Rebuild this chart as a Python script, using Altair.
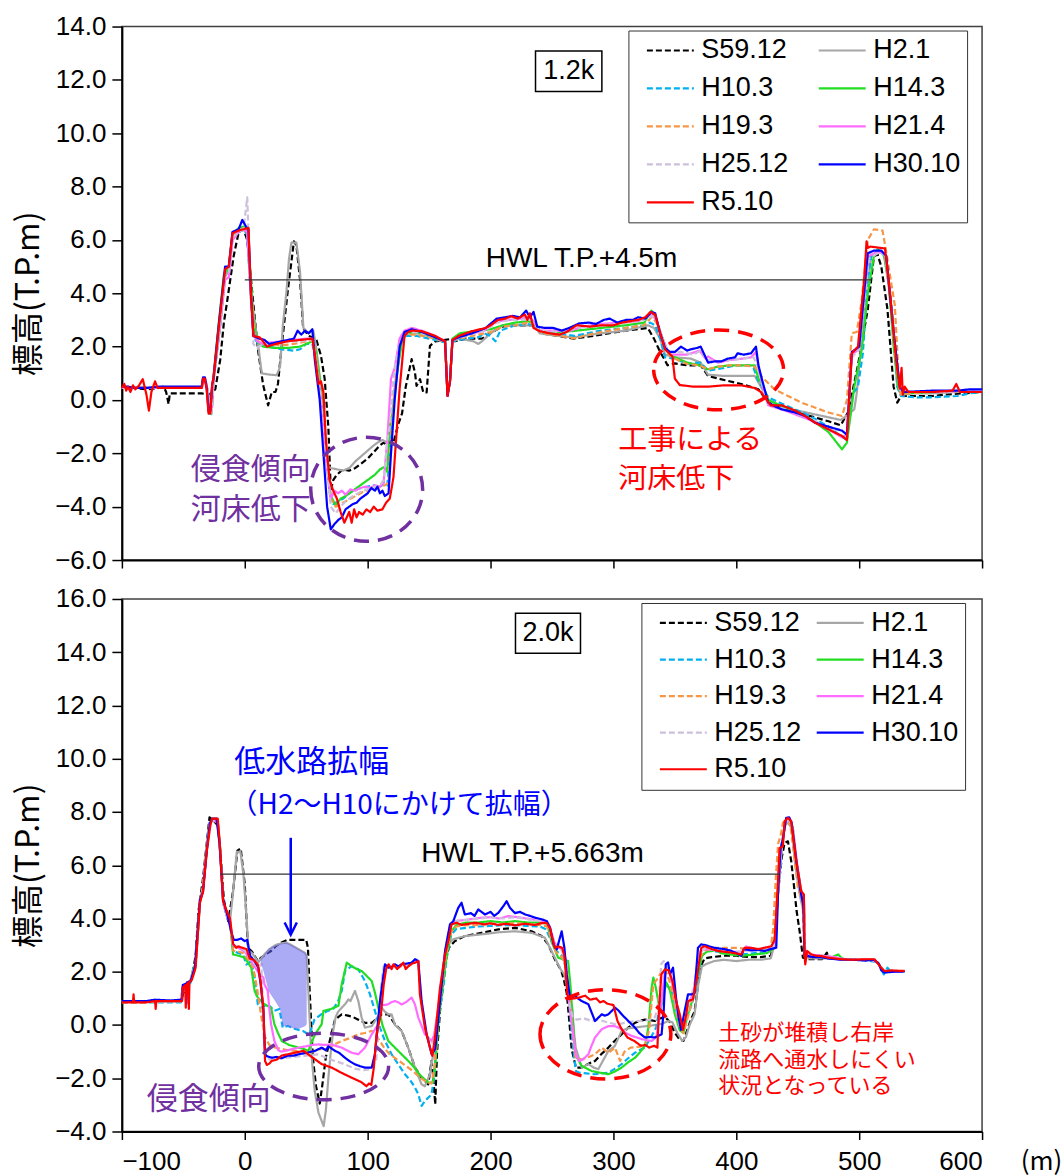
import altair as alt
import pandas as pd

# ---------------------------------------------------------------- series
SERIES = ["S59.12", "H2.1", "H10.3", "H14.3", "H19.3", "H21.4", "H25.12", "H30.10", "R5.10"]
COLORS = ["#000000", "#a6a6a6", "#00b0f0", "#22dd22", "#f79646", "#ff6cff", "#ccc0da", "#0000ff", "#ff0000"]
DASHES = [[6, 3], [1, 0], [6, 3], [1, 0], [6, 3], [1, 0], [6, 3], [1, 0], [1, 0]]
WIDTHS = [2.2, 2.4, 2.2, 2.2, 2.2, 2.2, 2.2, 2.4, 3.0]
# legend fills column by column: list the left column first, then the right one
LEGEND_ORDER = [0, 2, 4, 6, 8, 1, 3, 5, 7]

# ---------------------------------------------------------------- 1.2k cross-section (x [m], elevation T.P.m)
top_s5912 = [(-100, 0.45), (-90, 0.45), (-80, 0.4), (-70, 0.45), (-66, 0.5), (-64, 0.3), (-62, -0.15), (-61, 0.25),
             (-55, 0.25), (-45, 0.25), (-35, 0.25), (-30, 0.2), (-27, 0.25), (-24, 0.4), (-20, 1.5), (-17, 2.9),
             (-14.5, 3.65), (-9, 5.4), (-5, 6.28), (-1, 6.4), (2, 6.0), (4, 5.0), (7, 3.6), (11, 1.8), (15, 0.55),
             (19, -0.2), (22, 0.3), (25, 0.3), (27, 0.6), (30, 2.0), (35, 4.1), (38, 5.2), (40, 5.95), (42, 5.8),
             (45, 4.5), (47.5, 2.7), (52, 2.4), (58, 2.3), (62, 1.66), (65, 0.8), (68, -1.0), (70, -3.4), (72, -3.0),
             (75, -2.8), (80, -2.6), (85, -2.65), (90, -2.55), (100, -2.2), (106, -1.9), (110, -1.7), (113, -1.6),
             (118, -1.75), (121, -1.6), (125, -0.9), (128, -0.5), (131, 0.5), (135.8, 1.53), (138.5, 1.03),
             (139.8, 0.53), (142.6, 0.78), (145.3, 0.28), (148, 0.28), (150.7, 2.03), (155, 2.2), (167, 2.28),
             (171, 2.2), (180, 2.3), (193, 2.3), (200, 2.5), (209, 2.75), (220, 2.8), (236, 2.8), (241, 2.5),
             (255, 2.4), (268, 2.3), (290, 2.45), (310, 2.6), (328, 2.7), (333, 2.3), (338, 1.8), (341, 1.57),
             (344, 1.3), (350, 1.37), (360, 1.3), (371, 1.3), (377, 0.9), (390, 0.75), (404, 0.6), (418, 0.4),
             (426, -0.1), (440, -0.35), (460, -0.6), (475, -0.8), (485, -0.95), (491, -0.45), (499, 1.3), (507, 3.4),
             (512, 5.4), (515, 5.45), (518, 5.0), (523, 3.4), (528, 0.5), (531, -0.1), (534, 0.15), (545, 0.15),
             (560, 0.15), (570, 0.2), (585, 0.25), (600, 0.3)]
top_h21 = [(-100, 0.45), (-80, 0.45), (-60, 0.45), (-35, 0.45), (-34, 0.7), (-32, 0.7), (-30, 0.3), (-29, -0.3),
           (-27, 0.3), (-25, 0.9), (-20, 2.8), (-16, 4.6), (-13, 4.9), (-10, 6.0), (-5, 6.3), (-1, 6.4), (2, 6.2),
           (5, 4.0), (8, 3.0), (11, 2.03), (13.8, 1.0), (20, 0.95), (26, 0.93), (28.7, 1.24), (31, 2.8), (34, 4.1),
           (36, 5.3), (38, 5.9), (42, 5.9), (45, 4.8), (47.7, 2.7), (51.8, 2.5), (55.8, 2.6), (58, 2.0), (62, 0.5),
           (66, -1.5), (68, -2.5), (70, -2.55), (75, -2.6), (80, -2.65), (85, -2.55), (90, -2.3), (95, -2.1),
           (100, -1.9), (105, -1.7), (108, -1.6), (112, -1.5), (116, -1.6), (119, -1.0), (122, 0.4), (125, 1.4),
           (128, 2.2), (132, 2.5), (140, 2.5), (150, 2.4), (160, 2.2), (163, 2.2), (165, 0.2), (167, 0.7), (169, 2.2),
           (175, 2.3), (186, 2.2), (190, 2.1), (193, 2.2), (200, 2.5), (210, 2.8), (220, 2.8), (230, 2.8),
           (236, 2.75), (240, 2.5), (255, 2.4), (268, 2.35), (290, 2.5), (310, 2.6), (328, 2.8), (333, 2.7),
           (338, 2.3), (342, 1.7), (350, 1.6), (363, 1.55), (371, 1.4), (377, 0.95), (390, 0.9), (404, 0.9),
           (415, 0.9), (420, 0.5), (426, 0.0), (440, -0.3), (460, -0.5), (475, -0.65), (485, -0.75), (491, -0.55),
           (496, -0.35), (498, 0.25), (501, 1.75), (505, 4.0), (510, 5.4), (515, 5.55), (520, 5.5), (524, 4.3),
           (528, 2.5), (531, 0.5), (534, 0.2), (545, 0.25), (560, 0.25), (580, 0.3), (600, 0.3)]
top_h103 = [(-100, 0.45), (-80, 0.45), (-60, 0.45), (-35, 0.45), (-34, 0.7), (-32, 0.7), (-30, 0.3), (-29, -0.6),
            (-27, -0.5), (-25, 0.9), (-20, 2.8), (-16, 4.8), (-13, 4.9), (-10, 6.1), (-5, 6.3), (-1, 6.4), (2, 6.2),
            (5, 3.8), (8, 2.3), (12, 2.05), (20, 2.0), (30, 1.9), (40, 1.85), (45, 1.9), (50, 2.1), (55, 2.1),
            (58, 1.5), (62, 0.0), (66, -2.0), (69, -3.5), (72, -3.9), (76, -3.8), (80, -3.7), (85, -3.5),
            (90, -3.35), (95, -3.3), (100, -3.25), (105, -3.2), (110, -3.3), (113, -3.1), (116, -3.2), (119, -1.5),
            (122, 0.3), (126, 2.1), (130, 2.4), (140, 2.4), (150, 2.3), (160, 2.2), (163, 2.15), (165, 0.2),
            (167, 0.7), (169, 2.2), (180, 2.3), (190, 2.35), (195, 2.5), (200, 2.4), (204, 2.2), (208, 2.6),
            (220, 2.8), (230, 2.85), (236, 2.8), (240, 2.55), (255, 2.5), (268, 2.4), (290, 2.6), (310, 2.7),
            (325, 2.8), (330, 2.9), (334, 2.8), (338, 2.3), (342, 1.6), (350, 1.55), (360, 1.35), (371, 1.4),
            (377, 1.1), (390, 1.2), (400, 1.3), (410, 1.3), (414, 1.2), (418, 0.7), (421, 0.5), (426, 0.1),
            (440, -0.2), (460, -0.6), (475, -1.0), (485, -1.35), (490, -1.5), (495, 0.25), (499, 0.5), (503, 1.75),
            (507, 4.5), (510, 5.45), (518, 5.6), (522, 5.2), (527, 3.3), (531, 0.5), (534, 0.15), (545, 0.1),
            (560, 0.1), (580, 0.15), (590, 0.25), (600, 0.3)]
top_h143 = [(-100, 0.45), (-60, 0.45), (-35, 0.45), (-34, 0.75), (-32, 0.75), (-30, 0.3), (-29, -0.5), (-27, -0.5),
            (-25, 1.1), (-22, 2.5), (-17, 4.7), (-13, 5.0), (-10, 6.2), (-5, 6.45), (-1, 6.5), (2, 6.4), (5, 4.5),
            (7, 3.0), (10, 2.2), (15, 2.0), (25, 1.95), (35, 1.95), (45, 2.0), (50, 2.1), (55, 2.2), (58, 1.8),
            (62, 0.5), (66, -1.8), (70, -3.6), (74, -3.95), (78, -3.7), (82, -3.6), (88, -3.4), (94, -3.2),
            (100, -3.0), (106, -2.8), (110, -2.6), (114, -2.5), (116, -2.7), (118, -1.0), (120, -0.5), (124, 1.0),
            (128, 2.3), (132, 2.5), (140, 2.55), (150, 2.4), (163, 2.2), (165, 0.2), (167, 0.7), (169, 2.3),
            (175, 2.5), (190, 2.6), (200, 2.65), (210, 2.8), (220, 2.9), (230, 2.95), (236, 2.9), (240, 2.6),
            (250, 2.5), (270, 2.6), (290, 2.7), (310, 2.8), (325, 2.9), (331, 3.35), (335, 3.0), (340, 2.3),
            (345, 1.7), (350, 1.6), (360, 1.4), (370, 1.3), (377, 1.15), (385, 1.25), (395, 1.3), (405, 1.3),
            (415, 1.3), (418, 0.8), (421, 0.6), (426, 0.0), (440, -0.3), (460, -0.7), (475, -1.2), (486, -1.85),
            (490, -1.6), (496, 0.5), (502, 1.87), (507, 4.0), (512, 5.4), (515, 5.65), (520, 5.5), (524, 4.4),
            (528, 2.0), (532, 0.4), (536, 0.25), (560, 0.3), (600, 0.3)]
top_h193 = [(-100, 0.45), (-60, 0.45), (-35, 0.45), (-34, 0.7), (-32, 0.7), (-30, 0.3), (-29, -0.5), (-27, -0.5),
            (-25, 1.0), (-20, 2.8), (-16, 4.8), (-13, 4.95), (-10, 6.15), (-5, 6.35), (-1, 6.45), (2, 6.3), (5, 4.2),
            (8, 2.4), (12, 2.15), (20, 2.1), (30, 2.05), (40, 2.1), (50, 2.2), (55, 2.25), (58, 1.6), (62, 0.2),
            (66, -2.0), (70, -3.7), (74, -4.0), (78, -3.9), (84, -3.75), (90, -3.6), (96, -3.45), (102, -3.35),
            (108, -3.3), (114, -3.2), (117, -3.1), (119, -1.5), (122, 0.4), (126, 2.2), (130, 2.45), (140, 2.45),
            (150, 2.35), (163, 2.2), (165, 0.2), (167, 0.7), (169, 2.25), (180, 2.35), (190, 2.45), (200, 2.55),
            (210, 2.75), (220, 2.8), (230, 2.9), (236, 2.85), (240, 2.55), (250, 2.45), (270, 2.3), (275, 2.4),
            (290, 2.55), (310, 2.7), (325, 2.8), (331, 3.1), (335, 2.9), (340, 2.3), (345, 1.7), (350, 1.55),
            (360, 1.35), (370, 1.3), (377, 1.15), (385, 1.25), (395, 1.3), (405, 1.3), (415, 1.25), (420, 0.9),
            (431, 0.4), (442, 0.15), (453, -0.1), (465, -0.3), (475, -0.47), (486, -0.6), (490, 0.0), (494, 2.5),
            (498, 2.55), (502, 3.7), (507, 6.0), (512, 6.4), (519, 6.35), (522, 5.55), (529, 3.55), (532, 1.0),
            (534, 0.2), (540, 0.25), (560, 0.3), (600, 0.3)]
top_h214 = [(-100, 0.45), (-60, 0.45), (-35, 0.45), (-34, 0.8), (-32, 0.8), (-30, 0.3), (-29, -0.5), (-27, -0.45),
            (-25, 1.0), (-20, 2.9), (-16, 4.5), (-13, 4.6), (-10, 6.0), (-5, 6.3), (-1, 6.4), (2, 6.3), (5, 3.9),
            (7, 2.5), (10, 2.2), (15, 2.1), (20, 2.15), (30, 2.2), (40, 2.25), (50, 2.3), (55, 2.3), (58, 1.5),
            (62, 0.0), (66, -2.2), (70, -3.7), (73, -3.4), (76, -3.5), (79, -3.4), (82, -3.55), (86, -3.35),
            (90, -3.4), (94, -3.3), (98, -3.25), (102, -3.3), (106, -3.2), (110, -3.25), (113, -3.1), (116, -1.5),
            (119, 0.8), (122, 1.2), (126, 2.3), (130, 2.6), (136, 2.7), (144, 2.6), (155, 2.4), (163, 2.2),
            (165, 0.2), (167, 0.7), (169, 2.25), (180, 2.45), (195, 2.6), (205, 2.95), (215, 3.0), (225, 3.05),
            (232, 3.1), (236, 2.9), (240, 2.6), (250, 2.6), (265, 2.6), (275, 2.75), (290, 2.85), (305, 2.9),
            (320, 2.95), (331, 3.2), (335, 3.0), (340, 2.3), (345, 1.75), (350, 1.7), (360, 1.7), (370, 1.85),
            (375, 1.55), (377, 1.63), (385, 1.4), (395, 1.5), (405, 1.55), (412, 1.6), (416, 1.8), (419, 1.0),
            (422, 0.4), (426, -0.2), (440, -0.4), (460, -0.75), (475, -1.1), (486, -1.4), (490, -1.3), (494, 1.7),
            (500, 1.9), (505, 4.2), (508, 5.4), (515, 5.55), (521, 5.5), (525, 4.0), (530, 1.5), (533, 0.4),
            (537, 0.3), (560, 0.3), (600, 0.35)]
top_h2512 = [(-100, 0.45), (-60, 0.45), (-35, 0.45), (-34, 0.75), (-32, 0.75), (-30, 0.3), (-29, -0.5), (-27, -0.5),
             (-25, 1.0), (-20, 2.9), (-16, 4.7), (-13, 4.8), (-10, 6.1), (-5, 6.3), (-1, 6.4), (2, 7.6), (3, 6.3),
             (5, 3.8), (7, 2.1), (10, 1.95), (15, 2.1), (25, 2.15), (35, 2.2), (45, 2.2), (55, 2.25), (58, 1.5),
             (62, 0.0), (66, -2.2), (70, -4.0), (74, -4.25), (78, -4.0), (82, -3.8), (88, -3.6), (94, -3.45),
             (100, -3.35), (106, -3.25), (110, -3.2), (113, -3.0), (116, -1.5), (118, -1.0), (121, 0.8), (125, 2.0),
             (130, 2.5), (140, 2.55), (155, 2.35), (163, 2.2), (165, 0.2), (167, 0.7), (169, 2.25), (180, 2.4),
             (195, 2.6), (205, 2.9), (215, 3.0), (225, 3.0), (232, 3.05), (236, 2.85), (240, 2.6), (255, 2.55),
             (270, 2.7), (290, 2.8), (310, 2.9), (325, 3.0), (331, 3.15), (335, 3.0), (340, 2.3), (345, 1.75),
             (355, 1.8), (365, 1.7), (371, 1.85), (376, 1.5), (385, 1.45), (395, 1.5), (405, 1.55), (414, 1.6),
             (418, 1.2), (422, 0.4), (426, -0.15), (440, -0.35), (460, -0.7), (475, -1.05), (486, -1.35),
             (490, -1.4), (494, 1.6), (500, 1.9), (505, 4.0), (508, 5.3), (515, 5.5), (521, 5.45), (525, 4.0),
             (530, 1.5), (533, 0.4), (537, 0.3), (560, 0.3), (600, 0.35)]
top_h3010 = [(-100, 0.5), (-95, 0.5), (-90, 0.45), (-80, 0.45), (-70, 0.5), (-50, 0.5), (-35, 0.5), (-34, 0.85),
             (-32.5, 0.85), (-31, 0.45), (-29.5, -0.4), (-28, -0.4), (-26.5, 0.6), (-25.5, 0.8), (-21, 2.9),
             (-16, 5.0), (-13, 5.0), (-10, 6.3), (-5, 6.4), (-2, 6.75), (1, 6.5), (3, 6.4), (5, 4.0), (7, 2.4),
             (12, 2.3), (16, 2.25), (20, 2.1), (30, 2.2), (40, 2.3), (43, 2.6), (46, 2.45), (49, 2.6), (52, 2.5),
             (55, 2.65), (57, 1.5), (61, 0.0), (64, -2.0), (67, -4.0), (70, -4.85), (73, -4.65), (76, -4.5),
             (79, -4.4), (82, -4.1), (85, -4.0), (88, -3.9), (91, -3.85), (94, -3.7), (97, -3.6), (100, -3.5),
             (103, -3.3), (106, -3.4), (108, -3.25), (110, -3.5), (112, -3.4), (114, -3.6), (117, -3.5), (119, -2.0),
             (122, 0.0), (126, 2.0), (130, 2.55), (136, 2.65), (144, 2.55), (155, 2.35), (163, 2.2), (165, 0.15),
             (167, 0.7), (169, 2.25), (174, 2.35), (185, 2.5), (196, 2.7), (205, 3.05), (212, 3.1), (218, 3.15),
             (224, 3.1), (229, 3.35), (232, 3.1), (235, 3.3), (238, 2.75), (244, 2.7), (251, 2.7), (258, 2.6),
             (264, 2.7), (272, 2.87), (280, 2.9), (286, 2.85), (292, 3.0), (297, 3.05), (303, 2.9), (310, 3.0),
             (316, 3.0), (320, 3.1), (326, 3.05), (331, 3.3), (334, 3.25), (338, 2.5), (342, 1.95), (346, 1.8),
             (350, 1.8), (355, 2.0), (360, 1.85), (363, 1.9), (368, 1.95), (371, 2.0), (375, 1.6), (377, 1.4),
             (383, 1.45), (388, 1.45), (393, 1.55), (399, 1.6), (401, 1.75), (406, 1.7), (412, 1.75), (416, 2.0),
             (418, 1.3), (421, 0.75), (426, -0.1), (432, -0.25), (437, -0.35), (448, -0.47), (456, -0.6),
             (464, -0.85), (475, -1.0), (486, -1.15), (490, -1.3), (494, 1.8), (500, 2.0), (504, 4.0), (507, 5.5),
             (512, 5.6), (518, 5.6), (522, 5.4), (527, 3.0), (533, 0.5), (536, 0.3), (560, 0.35), (580, 0.35),
             (590, 0.4), (600, 0.4)]
top_r510 = [(-100, 0.45), (-98, 0.6), (-96.5, 0.35), (-95, 0.5), (-93, 0.3), (-91, 0.55), (-89, 0.4), (-86, 0.55),
            (-83, 0.78), (-80, 0.2), (-78, -0.4), (-76, 0.3), (-73, 0.7), (-71, 0.45), (-60, 0.45), (-45, 0.45),
            (-35, 0.45), (-34, 0.8), (-32.5, 0.8), (-31, 0.4), (-29.5, -0.5), (-28, -0.5), (-26.5, 0.6),
            (-25.5, 0.8), (-21, 2.8), (-16, 4.9), (-13, 5.0), (-10, 6.25), (-5, 6.35), (-1, 6.4), (3, 6.45),
            (5, 4.0), (7, 2.4), (12, 2.35), (14, 2.25), (18, 2.0), (25, 2.1), (35, 2.2), (45, 2.25), (55, 2.3),
            (57, 1.7), (60, 0.6), (62, 0.7), (64, 0.3), (66, -1.5), (69, -3.0), (72, -3.4), (75, -3.7), (78, -4.2),
            (81, -4.6), (83, -4.4), (85, -4.2), (87, -4.6), (89, -4.1), (91, -4.4), (93, -4.2), (96, -4.3),
            (99, -4.1), (102, -4.2), (105, -4.0), (108, -4.15), (112, -4.1), (115, -3.85), (118, -3.7),
            (121, -2.9), (126, 0.4), (130, 2.4), (133, 2.55), (136, 2.6), (144, 2.58), (155, 2.4), (163, 2.2),
            (165, 0.15), (167, 0.7), (169, 2.25), (174, 2.4), (185, 2.58), (196, 2.7), (200, 2.8), (206, 3.0),
            (212, 3.05), (217, 3.14), (222, 3.05), (228, 3.2), (230, 3.0), (232, 3.25), (235, 2.7), (240, 2.58),
            (248, 2.5), (256, 2.45), (262, 2.55), (270, 2.8), (281, 2.75), (290, 2.8), (300, 2.8), (307, 2.9),
            (313, 2.95), (320, 3.0), (326, 3.1), (330, 3.3), (334, 3.2), (338, 2.5), (342, 1.9), (348, 1.63),
            (350, 0.8), (354, 0.56), (365, 0.5), (377, 0.5), (390, 0.55), (404, 0.55), (415, 0.45), (420, 0.3),
            (428, -0.2), (437, -0.2), (448, -0.4), (456, -0.6), (464, -0.85), (475, -1.1), (486, -1.35),
            (490, -1.5), (494, 1.75), (499, 2.0), (504, 4.5), (506, 5.95), (507, 5.7), (509, 5.75), (521, 5.68),
            (525, 4.06), (530, 1.5), (533, 0.43), (534.5, 1.2), (535.5, 0.2), (537, 0.5), (540, 0.3), (560, 0.3),
            (576, 0.35), (579, 0.6), (582, 0.3), (600, 0.3)]

# ---------------------------------------------------------------- 2.0k cross-section
bot_s5912 = [(-100, 0.9), (-80, 0.9), (-60, 0.9), (-52, 0.9), (-50, 1.2), (-46, 1.5), (-43, 1.8), (-40, 2.6),
             (-37.6, 4.3), (-34, 5.5), (-31, 6.8), (-28.7, 7.8), (-26, 7.7), (-22, 7.5), (-20, 6.6), (-17, 4.7),
             (-13.5, 3.9), (-9.5, 5.03), (-6, 6.55), (-3.3, 6.63), (0, 5.28), (2.2, 3.28), (2.7, 2.9), (6, 2.75),
             (10.6, 2.4), (13.3, 2.53), (17, 2.65), (21.4, 2.78), (25, 2.95), (29.5, 3.09), (35, 3.2), (42, 3.2),
             (50, 3.2), (51.4, 2.9), (52.8, 1.28), (55.4, -1.23), (58, -2.3), (61, -2.95), (63, -2.3), (66, -1.2),
             (70.7, -0.3), (73.4, 0.2), (78.9, 0.4), (84, 0.35), (88, 0.3), (92.4, 0.2), (97.8, 0.08),
             (103.3, 0.08), (108.7, 0.28), (111.4, 0.4), (116.8, 0.4), (122.2, 0.03), (127.6, -0.22), (133, -0.85),
             (138.5, -1.6), (143.9, -1.98), (149.3, -2.23), (152, -1.35), (153.5, -2.0), (155, -2.98),
             (156.5, -1.0), (158.9, 0.53), (163, 2.3), (166, 2.9), (171, 3.15), (179.1, 3.34), (192.7, 3.46),
             (206.3, 3.59), (219.8, 3.65), (233.4, 3.52), (241.5, 3.34), (246.9, 3.03), (252.3, 2.47),
             (257.7, 2.03), (259.9, 1.65), (262, 1.2), (264, 0.2), (266, -0.9), (269.5, -1.6), (274, -1.6),
             (280, -1.45), (285, -1.35), (290, -1.1), (295.9, -0.85), (301, -0.6), (306.7, -0.35), (312, -0.1),
             (317.6, 0.08), (321, 0.15), (325.7, 0.2), (330, 0.18), (333.8, 0.15), (338, 0.25), (342, 0.3),
             (346, 0.1), (350, -0.3), (354, -0.55), (357, -0.6), (360, -0.2), (363, 0.2), (366, 0.5), (368, 1.2),
             (371, 2.2), (374.2, 2.5), (380, 2.55), (390, 2.6), (400, 2.6), (410, 2.55), (420, 2.55), (428, 2.6),
             (431.2, 3.15), (434, 5.0), (437, 6.3), (439.3, 6.84), (442, 6.9), (444.7, 6.15), (447.4, 5.03),
             (449, 4.3), (451.5, 3.53), (454.2, 2.53), (458.8, 2.47), (465, 2.47), (469.6, 2.47), (472, 2.6),
             (473.7, 2.72), (475, 2.5), (482, 2.5)]
bot_h21 = [(-100, 0.9), (-80, 0.9), (-60, 0.9), (-52, 0.9), (-50.5, 1.4), (-47, 1.5), (-44, 1.7), (-40, 2.3),
           (-36.5, 4.6), (-34, 5.2), (-31, 6.6), (-28.5, 7.6), (-26, 7.7), (-22, 7.6), (-20.3, 6.8), (-17.6, 4.7),
           (-14, 4.0), (-12, 3.9), (-9.5, 5.0), (-6.5, 6.5), (-3.5, 6.5), (-1, 5.6), (1.5, 4.0), (3, 2.8), (6, 2.7),
           (9, 2.5), (11, 2.35), (13, 2.47), (16, 2.65), (20, 2.85), (25, 3.0), (30, 3.07), (34.1, 3.09), (38, 3.0),
           (43, 2.87), (49, 2.71), (50.4, 2.6), (52, 1.0), (54, -1.0), (57, -2.5), (60, -3.3), (64.2, -3.8),
           (66, -3.2), (68, -2.0), (70, -1.0), (72, -0.2), (74, 0.3), (76, 0.5), (78.9, 0.65), (82, 0.8),
           (84.3, 0.96), (86, 0.9), (89.7, 1.28), (92.4, 0.9), (95.1, 0.28), (97.8, -0.1), (103.3, -0.04),
           (108.7, 0.34), (111.4, 0.65), (114, 0.5), (116.8, 0.4), (119.5, 0.4), (122.2, 0.0), (127.6, -0.22),
           (133, -0.85), (138.5, -1.6), (143.9, -2.23), (146.6, -2.3), (150.7, -1.85), (153.4, -1.1),
           (157.5, 0.4), (161.6, 2.15), (165.6, 3.03), (169.7, 3.22), (179.1, 3.34), (192, 3.4), (206, 3.48),
           (219.8, 3.52), (233.4, 3.46), (244.2, 3.28), (252.3, 2.53), (257, 2.1), (260, 1.9), (263.8, 1.15),
           (266.5, 0.65), (268, -0.3), (269.3, -0.85), (274.2, -1.6), (279.6, -1.47), (284, -1.6),
           (287.7, -1.66), (292, -1.3), (295.9, -0.97), (301, -0.8), (306.7, -0.22), (312, -0.12), (317.6, -0.1),
           (323, -0.06), (328.4, -0.04), (334, 0.0), (340, 0.05), (344.4, 0.15), (348, 0.1), (352, -0.3),
           (356, -0.6), (359, -0.45), (362, 0.0), (366, 0.4), (369, 1.5), (372, 2.2), (376, 2.3), (382, 2.4),
           (390, 2.45), (400, 2.4), (410, 2.45), (420, 2.45), (428, 2.5), (431, 3.0), (434, 5.0), (437, 6.6),
           (439.5, 7.5), (442, 7.6), (445, 7.4), (448, 6.0), (452, 4.8), (455, 4.2), (456, 2.6), (460, 2.5),
           (470, 2.5), (480, 2.5), (490, 2.45), (500, 2.45), (510, 2.45), (515, 2.35), (520, 2.0), (530, 2.0),
           (537, 2.0)]
bot_h103 = [(-100, 0.85), (-80, 0.85), (-60, 0.85), (-52, 0.85), (-50.5, 1.3), (-47, 1.4), (-44, 1.6), (-40, 2.2),
            (-36.5, 4.6), (-34, 5.1), (-31, 6.6), (-28.5, 7.6), (-26, 7.7), (-22, 7.6), (-20.3, 6.7), (-17.6, 4.6),
            (-14, 4.0), (-12, 3.9), (-9.5, 2.78), (-5, 2.7), (-1.4, 2.65), (1.3, 2.27), (5.3, 2.4), (8, 1.78),
            (10.6, 0.78), (13.3, 0.65), (18.7, 0.78), (24.1, 0.53), (28.2, 0.6), (30.9, -0.1), (35, -0.04),
            (41.7, -0.16), (47.2, -0.22), (50, -0.3), (52.7, -0.35), (56.7, 0.2), (62.2, 0.4), (67.5, 0.53),
            (72, 0.6), (76, 0.9), (79, 1.3), (81.6, 2.03), (87, 2.21), (92.4, 2.09), (97.8, 1.65), (101.9, 1.15),
            (105.9, 0.53), (110, -0.1), (114.1, -0.6), (119.5, -1.1), (124.9, -1.48), (130.4, -1.85), (135, -2.1),
            (138.5, -2.35), (141.2, -2.6), (143.9, -3.04), (146.6, -2.85), (150, -2.7), (152, -2.6), (154, -2.0),
            (157.5, 0.28), (161.6, 1.4), (164.3, 2.53), (168, 3.4), (172, 3.6), (180, 3.65), (190, 3.7),
            (200, 3.72), (210, 3.75), (220, 3.75), (230, 3.72), (240, 3.7), (245, 3.6), (249, 3.2), (253, 2.8),
            (258, 2.6), (261, 2.2), (263, 1.3), (265, 0.3), (267, -0.8), (269.5, -1.73), (272.1, -1.79),
            (278, -1.82), (285, -1.85), (290, -1.82), (295.9, -1.79), (301, -1.65), (306.7, -1.47), (312, -1.25),
            (317.6, -1.04), (321, -0.95), (325.7, -0.85), (330, -0.5), (334.8, -0.1), (338, 0.8), (341, 1.3),
            (344, 1.5), (348, 1.2), (351, 0.6), (354, -0.1), (357, -0.2), (360, 0.3), (364, 0.8), (368, 1.6),
            (372, 2.6), (376, 2.8), (385, 2.75), (395, 2.7), (405, 2.65), (415, 2.7), (425, 2.75), (431, 2.9),
            (434, 5.0), (437, 6.8), (440, 7.6), (443, 7.75), (446, 7.4), (449, 6.1), (453, 5.0), (455, 4.7),
            (456, 2.6), (460, 2.6), (470, 2.55), (480, 2.5), (490, 2.45), (500, 2.45), (510, 2.4), (515, 2.35),
            (518, 2.1), (520, 1.9), (523, 2.15), (526, 2.0), (535, 2.0)]
bot_h143 = [(-100, 0.9), (-80, 0.9), (-60, 0.9), (-52, 0.9), (-50.5, 1.4), (-47, 1.5), (-44, 1.7), (-42, 2.1),
            (-40, 2.3), (-36.5, 4.6), (-34, 5.1), (-31, 6.6), (-28.5, 7.6), (-26, 7.7), (-22, 7.6), (-20.3, 6.7),
            (-17.6, 4.6), (-14, 4.0), (-12, 3.9), (-9.5, 2.65), (-5, 2.6), (0, 2.53), (5.3, 2.15), (8, 1.28),
            (10.6, 1.03), (16, 0.78), (21.4, 0.65), (24.1, 0.03), (27, -0.3), (30.1, -0.6), (36, -0.75),
            (43.7, -0.85), (48, -0.9), (51.8, -0.97), (54, -0.7), (57.2, -0.35), (62.6, 0.03), (64, 0.53),
            (70, 0.6), (76.2, 0.72), (78.9, 1.53), (83, 2.34), (87, 2.21), (91, 2.1), (95.1, 2.03), (99, 1.85),
            (103.3, 1.65), (106, 1.2), (108.7, 0.65), (112, 0.0), (116.8, -0.6), (122.2, -0.85), (127.6, -1.1),
            (133.1, -1.35), (138, -1.6), (143, -1.9), (149.3, -2.16), (153, -2.16), (155, -1.5), (158, 0.3),
            (162, 1.8), (165, 2.8), (168, 3.5), (172, 3.75), (180, 3.85), (190, 3.85), (200, 3.9), (210, 3.85),
            (220, 3.9), (230, 3.85), (240, 3.85), (246, 3.8), (249.6, 3.15), (255, 2.53), (260, 2.45),
            (263.1, 2.4), (265, 1.5), (268.8, -1.1), (274.2, -1.54), (282.3, -1.73), (290, -1.8), (295.9, -1.85),
            (301, -1.75), (306.7, -1.6), (312, -1.4), (317.6, -1.23), (322, -1.0), (325.7, -0.78), (328.4, -0.1),
            (331.1, 1.4), (332.5, 1.78), (334.5, 1.4), (337.9, 0.53), (340, 0.9), (343, 1.6), (346, 1.3),
            (350, 0.4), (354, -0.2), (357, -0.3), (360, 0.3), (364, 0.9), (368, 1.8), (372, 2.6), (376, 2.75),
            (382, 2.8), (385, 2.9), (387, 2.7), (395, 2.65), (405, 2.6), (415, 2.65), (425, 2.7), (431, 2.9),
            (434, 5.0), (437, 6.8), (440, 7.6), (443, 7.75), (446, 7.4), (449, 6.1), (453, 5.0), (455, 4.6),
            (456, 2.6), (460, 2.6), (470, 2.6), (478, 2.55), (483, 2.65), (486, 2.5), (490, 2.45), (500, 2.45),
            (510, 2.45), (515, 2.35), (520, 2.0), (530, 2.0), (535, 2.0)]
bot_h193 = [(-100, 0.85), (-80, 0.85), (-60, 0.9), (-52, 0.9), (-50.5, 1.3), (-47, 1.4), (-44, 1.7), (-40, 2.3),
            (-37, 4.5), (-34, 5.2), (-31, 6.7), (-28.5, 7.6), (-26, 7.7), (-22, 7.6), (-20.3, 6.7), (-17.6, 4.6),
            (-14, 4.0), (-12, 3.85), (-9.5, 2.8), (-5, 2.75), (-1, 2.7), (2, 2.5), (5.3, 2.35), (8, 1.9),
            (10.6, 1.2), (13.5, 0.3), (16, -0.4), (20, -0.75), (25, -0.85), (30, -0.9), (35, -0.95), (41, -0.97),
            (48, -1.0), (55, -1.0), (62, -0.9), (70, -0.8), (78.9, -0.6), (85, -0.5), (92.4, -0.35), (97.8, -0.3),
            (103.3, -0.22), (107, -0.4), (110, -0.6), (114, -0.9), (118, -1.1), (124, -1.3), (130, -1.5),
            (136, -1.7), (142, -1.95), (148, -2.15), (152, -2.2), (154.5, -1.5), (157.5, 0.3), (161, 1.6),
            (164, 2.7), (168, 3.5), (172, 3.7), (180, 3.75), (190, 3.75), (200, 3.8), (210, 3.8), (220, 3.82),
            (230, 3.8), (240, 3.75), (246, 3.7), (249, 3.3), (253, 2.75), (258, 2.55), (261, 2.3), (263, 1.6),
            (266, 0.2), (269, -1.2), (274, -1.3), (280, -1.2), (285, -1.1), (290.5, -0.85), (295.9, -1.05),
            (301.3, -0.85), (305.4, -1.35), (309, -1.0), (314, -0.85), (320, -0.82), (325.7, -0.78), (329, -0.2),
            (332.5, 1.53), (336.5, 1.78), (339, 2.0), (342, 2.1), (346, 1.6), (350, 0.7), (354, -0.1), (357, -0.3),
            (360, 0.2), (364, 0.9), (367, 1.7), (370, 2.5), (374, 2.8), (380, 2.85), (390, 2.9), (400, 2.9),
            (410, 2.85), (420, 2.85), (428, 2.9), (430, 3.6), (432, 5.4), (434, 6.8), (436, 7.1), (438, 7.6),
            (441, 7.7), (444, 7.5), (447, 6.4), (450, 5.2), (454, 4.6), (455.5, 2.6), (460, 2.55), (470, 2.55),
            (480, 2.5), (490, 2.45), (500, 2.45), (510, 2.45), (515, 2.35), (520, 2.0), (530, 2.0), (535, 2.0)]
bot_h214 = [(-100, 0.9), (-80, 0.9), (-60, 0.9), (-52, 0.9), (-50.5, 1.4), (-47, 1.5), (-44, 1.7), (-40, 2.3),
            (-36.5, 4.6), (-34, 5.1), (-31, 6.6), (-28.5, 7.6), (-26, 7.7), (-22, 7.6), (-20.3, 6.7), (-17.6, 4.6),
            (-14, 4.0), (-12, 3.9), (-9.5, 3.0), (-5, 2.9), (0, 2.75), (4.4, 2.47), (8, 2.2), (12, 1.9),
            (15.2, 1.78), (16, 1.53), (18.7, 1.28), (20, 0.6), (21.4, 0.03), (24.1, -0.6), (27.4, -0.95),
            (29.5, -1.0), (35, -0.95), (43.7, -0.85), (50, -0.8), (55, -0.75), (60, -0.73), (65, -0.75),
            (70.7, -0.73), (75, -0.8), (78.9, -0.85), (83, -0.95), (87, -1.04), (92.4, -1.1), (97.8, -0.85),
            (103.3, -0.35), (108.7, 0.03), (111.4, 0.77), (114.1, 0.75), (116.8, 0.78), (119, 0.85), (122.2, 0.9),
            (125, 0.85), (127.6, 0.77), (131, 0.85), (135.8, 1.03), (138.5, 0.77), (141.2, 0.28), (146.6, -0.35),
            (149.3, -0.47), (152, -0.6), (154, -0.4), (157.5, 0.65), (161, 2.0), (164, 3.0), (167, 3.7), (171, 3.9),
            (180, 3.95), (192.7, 4.03), (200, 4.05), (207, 4.0), (214.4, 4.09), (222, 4.05), (233.4, 3.97),
            (244.2, 3.9), (248, 3.7), (252, 3.1), (255, 2.9), (258, 2.85), (261, 2.5), (263.8, 0.9),
            (266.5, -0.1), (269.3, -1.1), (272, -1.35), (275, -1.3), (279.6, -1.1), (282, -0.8), (285, -0.47),
            (290.5, -0.16), (295.9, -0.04), (301, -0.04), (306.7, -0.16), (310, -0.3), (314.9, -0.41),
            (319, -0.47), (323, -0.53), (327, -0.57), (331.1, -0.6), (335, -0.45), (337, 0.2), (339.2, 0.9),
            (341.9, 2.03), (344, 2.15), (346, 1.9), (349, 1.3), (352, 0.5), (355, -0.1), (358, 0.1), (361, 0.8),
            (365, 1.2), (368, 2.2), (371, 2.8), (375, 2.85), (385, 2.8), (395, 2.75), (405, 2.75), (408, 2.95),
            (415, 2.85), (425, 2.8), (431, 2.95), (434, 5.0), (437, 6.8), (440, 7.6), (443, 7.75), (446, 7.4),
            (449, 6.2), (452.5, 5.1), (455, 4.8), (456, 2.6), (460, 2.65), (470, 2.6), (480, 2.55), (490, 2.45),
            (500, 2.45), (510, 2.45), (515, 2.35), (520, 2.0), (530, 2.0), (535, 2.0)]
bot_h2512 = [(-100, 0.9), (-80, 0.9), (-60, 0.9), (-52, 0.9), (-50.5, 1.4), (-47, 1.5), (-44, 1.7), (-40, 2.3),
             (-36.5, 4.6), (-34, 5.1), (-31, 6.6), (-28.5, 7.6), (-26, 7.7), (-22, 7.6), (-20.3, 6.7), (-17.6, 4.6),
             (-14, 4.0), (-12, 3.9), (-9.5, 3.0), (-5, 2.95), (0, 2.8), (4.4, 2.5), (8, 2.3), (11, 2.15),
             (13.5, 2.3), (14.5, 1.0), (15.5, -0.5), (17, -1.15), (20, -1.3), (30, -1.25), (40, -1.2), (50, -1.15),
             (60, -1.1), (70, -1.3), (80, -1.45), (90, -1.65), (97, -1.7), (103, -1.65), (107, -1.3), (109, 0.0),
             (111, 1.5), (113, 2.2), (116, 2.25), (120, 2.15), (125, 2.2), (130, 2.2), (135, 2.3), (139, 2.35),
             (141.2, 2.4), (143.5, 1.0), (147, -0.2), (151, -0.7), (154, -0.6), (157.5, 0.65), (161, 2.1),
             (164, 3.1), (167, 3.7), (171, 3.9), (180, 3.95), (192, 4.0), (200, 4.05), (210, 4.0), (220, 4.05),
             (233, 3.95), (244, 3.9), (248, 3.65), (252, 3.0), (256, 2.95), (259, 2.7), (261, 2.2), (263, 1.2),
             (265, 0.6), (267, 0.3), (270, 0.2), (276, 0.25), (282, 0.15), (288, 0.2), (295, 0.1), (301.3, 0.03),
             (306, 0.05), (312, 0.1), (318, 0.15), (324, 0.15), (330, 0.2), (334, 0.3), (337, 1.0), (339, 2.3),
             (341, 2.4), (344, 2.2), (347, 1.8), (350, 1.0), (353, 0.3), (356, -0.1), (359, 0.3), (362, 0.9),
             (366, 1.5), (369, 2.5), (373, 2.85), (380, 2.85), (390, 2.8), (400, 2.75), (410, 2.8), (420, 2.8),
             (428, 2.85), (431, 3.0), (434, 5.0), (437, 6.8), (440, 7.6), (443, 7.75), (446, 7.4), (449, 6.2),
             (452.5, 5.1), (455, 4.7), (456, 2.6), (460, 2.6), (470, 2.55), (480, 2.5), (490, 2.45), (500, 2.45),
             (510, 2.45), (515, 2.35), (520, 2.0), (530, 2.0), (535, 2.0)]
bot_h3010 = [(-100, 0.9), (-80, 0.9), (-73, 0.95), (-60, 0.92), (-52, 0.95), (-51, 0.95), (-50.5, 1.5), (-48, 1.55),
             (-47.5, 0.8), (-47, 1.6), (-44, 1.65), (-40.5, 2.2), (-36.5, 4.7), (-34, 5.0), (-31, 6.5),
             (-28.5, 7.55), (-26.5, 7.75), (-23, 7.75), (-20.5, 6.8), (-17.6, 4.7), (-14, 4.1), (-11, 3.5),
             (-9, 3.2), (-6, 3.2), (-3, 3.25), (0, 3.15), (2, 3.2), (4.4, 2.59), (8, 2.4), (11.1, 2.15), (13, 1.5),
             (15.2, 0.53), (16.5, -1.1), (17.9, -1.17), (22, -1.23), (26, -1.2), (30, -1.25), (35, -1.15),
             (40, -1.15), (43.7, -1.1), (50, -1.05), (57.2, -0.97), (62.6, -0.85), (66, -0.95), (68, -0.8),
             (73.4, -0.97), (77, -1.05), (81.5, -1.23), (85, -1.35), (89.7, -1.48), (94, -1.55), (97.8, -1.6),
             (103.3, -1.6), (105.9, -1.1), (110, 0.9), (114.1, 2.28), (117, 2.15), (120, 2.2), (122.2, 2.28),
             (125, 2.2), (127.6, 2.28), (131, 2.3), (135.8, 2.34), (138.5, 2.47), (141.2, 2.4), (143.9, 0.9),
             (148, -0.35), (152.1, -1.1), (155, -0.9), (158.9, 0.9), (163, 2.78), (167, 3.78), (169.7, 3.9),
             (173.7, 4.4), (176.4, 4.59), (179.1, 4.15), (184, 4.2), (187, 4.1), (190, 4.34), (195.5, 4.15),
             (200, 4.25), (203, 4.1), (206.3, 4.21), (210.4, 4.46), (213.1, 4.65), (215.8, 4.4), (220, 4.2),
             (224, 4.25), (228.2, 4.15), (232, 4.1), (236.3, 4.03), (241.7, 3.97), (245.8, 3.9), (248.5, 3.65),
             (251.2, 3.03), (253.9, 2.84), (256, 3.2), (257.9, 3.52), (260.1, 2.9), (262, 1.9), (264.7, 1.03),
             (268.8, 1.09), (271, 1.0), (274.2, 0.9), (279.6, 0.78), (282, 0.5), (285, 0.15), (290.5, 0.4),
             (293, 0.35), (295.9, 0.4), (298, 0.5), (301.3, 0.65), (304, 0.55), (306.7, 0.4), (312.1, 0.15),
             (317.6, -0.1), (321, -0.3), (325.7, -0.47), (330, -0.45), (333.8, -0.47), (339.2, -0.35), (341, 0.6),
             (342.6, 2.28), (344.5, 2.35), (346, 1.9), (348.5, 2.15), (351, 1.0), (353, 0.3), (355, -0.18),
             (357, 0.3), (360.7, 1.15), (364, 1.15), (366, 1.2), (368.8, 2.9), (371.5, 3.03), (376, 2.98),
             (382, 2.9), (390, 2.85), (395, 2.8), (400, 2.7), (404.1, 2.6), (406, 2.85), (412, 2.8), (418, 2.82),
             (423, 2.78), (428, 2.85), (432.5, 2.9), (434, 5.0), (436, 6.6), (438, 7.0), (440.6, 7.78), (443, 7.8),
             (445, 7.6), (448.5, 6.3), (452, 5.1), (454.5, 4.5), (455.5, 2.6), (457, 2.6), (462, 2.55),
             (468, 2.55), (475, 2.5), (485, 2.45), (495, 2.45), (505, 2.42), (512, 2.45), (516, 2.3), (518, 2.05),
             (520.6, 1.97), (528, 2.0), (534.2, 2.0), (537, 2.02)]
bot_r510 = [(-100, 0.85), (-95, 0.85), (-91, 0.85), (-90.5, 1.15), (-90, 0.85), (-80, 0.85), (-73, 0.9),
            (-72.5, 0.6), (-72, 0.9), (-60, 0.9), (-51, 0.9), (-50.5, 1.4), (-48.5, 1.5), (-48, 0.65),
            (-47.5, 1.5), (-46, 1.6), (-45.5, 0.6), (-45, 1.6), (-43, 1.7), (-40, 2.15), (-36.5, 4.6), (-34, 5.0),
            (-31, 6.5), (-28, 7.5), (-26.5, 7.75), (-22, 7.75), (-20.3, 6.8), (-17.6, 4.65), (-14, 4.2), (-12, 4.0),
            (-9.5, 3.05), (-7, 2.9), (-5, 2.95), (-2, 2.9), (1.5, 2.85), (4, 2.5), (7, 2.45), (10.6, 2.27),
            (13, 1.6), (15.2, 0.6), (16.5, -1.35), (18, -1.5), (20, -1.45), (22, -1.35), (26, -1.3), (30, -1.15),
            (35, -1.1), (40, -1.05), (47.8, -0.97), (54.5, -1.2), (62.6, -1.47), (70.7, -1.6), (78.9, -1.8),
            (87, -1.98), (95, -2.15), (99, -2.3), (101, -2.2), (103, -2.25), (105, -1.6), (107.3, -0.35),
            (111, 0.5), (113, 1.5), (115, 2.1), (117, 2.28), (119.5, 2.1), (121, 2.28), (124, 2.1), (126.3, 2.2),
            (129, 2.34), (131, 2.1), (133, 2.2), (136, 2.3), (138.5, 2.34), (141.2, 2.4), (142.5, 1.15),
            (146.6, -0.1), (150.7, -0.85), (152.6, -1.16), (154.8, -0.46), (158.9, 1.4), (163, 2.65),
            (165.6, 3.15), (168.3, 3.78), (172.4, 3.84), (176.4, 3.76), (182, 3.8), (187.3, 3.84), (195, 3.78),
            (200, 3.82), (206.3, 3.76), (213, 3.8), (220, 3.74), (228, 3.8), (236.1, 3.76), (241, 3.82),
            (245.5, 3.84), (248.2, 3.65), (252.3, 2.9), (255, 2.95), (258.4, 2.9), (260, 2.6), (261.1, 2.03),
            (262.5, 1.15), (263.8, 0.97), (268, 1.0), (272, 1.03), (277, 1.1), (281, 0.95), (286, 1.0),
            (289, 0.85), (292, 0.9), (295, 0.8), (297.8, 0.77), (300, 0.75), (303.3, 0.15), (306, -0.1),
            (311.4, -0.47), (317, -0.6), (322.3, -0.78), (326, -0.75), (329.1, -0.85), (333.1, -0.78),
            (335.8, -0.85), (337, 0.5), (339, 1.9), (342, 2.09), (345, 2.05), (348, 1.65), (351, 0.9), (354, 0.4),
            (356.6, -0.18), (359.3, 0.4), (360.7, 0.9), (364.7, 0.96), (367.5, 1.65), (371.5, 2.9), (374.2, 2.96),
            (380, 2.85), (385.1, 2.78), (390, 2.75), (395.9, 2.72), (404.1, 2.65), (406.8, 2.9), (412, 2.9),
            (418, 2.85), (423, 2.9), (428.5, 2.96), (431.2, 3.2), (433.9, 5.4), (435.2, 6.65), (437.9, 6.71),
            (439.3, 7.65), (442, 7.78), (444.7, 7.65), (448.8, 6.15), (452.8, 5.03), (455, 4.9), (455.5, 2.65),
            (456.1, 2.28), (457.7, 2.78), (461, 2.65), (465, 2.6), (469, 2.59), (474.4, 2.53), (480, 2.5),
            (485.3, 2.47), (495, 2.45), (507, 2.47), (512.5, 2.47), (517.9, 2.15), (520.6, 2.03), (527, 2.05),
            (534.2, 2.03), (537, 2.03)]

TOP_PROFILES = [top_s5912, top_h21, top_h103, top_h143, top_h193, top_h214, top_h2512, top_h3010, top_r510]
BOT_PROFILES = [bot_s5912, bot_h21, bot_h103, bot_h143, bot_h193, bot_h214, bot_h2512, bot_h3010, bot_r510]

# widened low-water channel (between the H2.1 and H10.3 beds)
WIDEN_X = [13, 15.2, 19.3, 24, 28.7, 31, 34.1, 38.2, 43, 49, 50.4]
WIDEN_TOP = [2.47, 2.6, 2.85, 2.98, 3.05, 3.07, 3.09, 3.0, 2.87, 2.71, 2.6]
WIDEN_BOTTOM = [2.35, 2.03, 1.28, 0.95, 0.6, -0.05, -0.04, -0.11, -0.16, -0.05, 0.03]

TOP_HWL = 4.5
BOT_HWL = 5.663

JP = "Noto Sans CJK JP"
LAT = "Liberation Sans"
PURPLE = "#7030a0"

XS = alt.Scale(domain=[-100, 600], nice=False, zero=False)
LEG_DOMAIN = [SERIES[k] for k in LEGEND_ORDER]
LEG_COLORS = [COLORS[k] for k in LEGEND_ORDER]
LEG_DASHES = [DASHES[k] for k in LEGEND_ORDER]
LEG_WIDTHS = [WIDTHS[k] for k in LEGEND_ORDER]


def long_frame(profiles):
    rows = []
    for name, pts in zip(SERIES, profiles):
        for i, (x, y) in enumerate(pts):
            rows.append({"series": name, "x": x, "y": y, "i": i})
    return pd.DataFrame(rows)


def ellipse_shape(ratio):
    return f"M -1 0 A 1 {ratio} 0 1 0 1 0 A 1 {ratio} 0 1 0 -1 0"


def profile_panel(profiles, ydom, height, legend_x, legend_y, row_pad, col_pad, x_axis, extra):
    ys = alt.Scale(domain=ydom, nice=False, zero=False)
    legend = alt.Legend(
        title=None, orient="none", legendX=legend_x, legendY=legend_y, columns=2,
        symbolType="stroke", symbolSize=2209, symbolStrokeWidth=2.5, symbolOffset=11,
        labelFont=LAT, labelFontSize=27, labelColor="black", labelOffset=6,
        rowPadding=row_pad, columnPadding=col_pad, padding=6, clipHeight=28,
        strokeColor="#333333", fillColor="white",
    )
    y_axis = alt.Axis(
        values=list(range(ydom[0], ydom[1] + 1, 2)), format=".1f",
        labelFont=LAT, labelFontSize=26, labelColor="black", labelPadding=6,
        tickSize=10, tickColor="black", tickWidth=1.5, domainColor="black", domainWidth=2,
        grid=False, title="標高(T.P.m)", titleFont=JP, titleFontSize=32, titleFontWeight="normal",
        titleColor="black", titleAngle=270, titleAlign="center", titleBaseline="middle",
        titleX=-93, titleY=height / 2,
    )
    enc = dict(x=alt.X("x:Q", scale=XS, axis=x_axis), y=alt.Y("y:Q", scale=ys, axis=y_axis))
    lines = alt.Chart(long_frame(profiles)).mark_line(strokeJoin="round").encode(
        color=alt.Color("series:N", scale=alt.Scale(domain=LEG_DOMAIN, range=LEG_COLORS), legend=legend),
        strokeDash=alt.StrokeDash("series:N", scale=alt.Scale(domain=LEG_DOMAIN, range=LEG_DASHES),
                                  legend=legend),
        strokeWidth=alt.StrokeWidth("series:O", scale=alt.Scale(domain=LEG_DOMAIN, range=LEG_WIDTHS),
                                    legend=None),
        order=alt.Order("i:Q"),
        **enc,
    )
    layers = [lines] + [build(enc) for build in extra]
    return alt.layer(*layers).properties(width=861, height=height)


def text_layer(rows, **style):
    def build(enc):
        return alt.Chart(pd.DataFrame(rows)).mark_text(**style).encode(text="t:N", **enc)
    return build


def hwl_layer(x0, x1, level):
    def build(enc):
        return alt.Chart(pd.DataFrame([{"x": x0, "x2": x1, "y": level}])).mark_rule(
            color="#333333", strokeWidth=1.3).encode(x2="x2:Q", **enc)
    return build


def box_layer(x0, x1, y0, y1):
    def build(enc):
        return alt.Chart(pd.DataFrame([{"x": x0, "x2": x1, "y": y0, "y2": y1}])).mark_rect(
            fill="white", stroke="black", strokeWidth=1.5).encode(x2="x2:Q", y2="y2:Q", **enc)
    return build


def ellipse_layer(cx, cy, rx, ry, color):
    def build(enc):
        return alt.Chart(pd.DataFrame([{"x": cx, "y": cy}])).mark_point(
            shape=ellipse_shape(round(ry / rx, 3)), size=(2 * rx) ** 2, filled=False,
            stroke=color, strokeWidth=3.5, strokeDash=[15, 9], opacity=1).encode(**enc)
    return build


def widen_layer(enc):
    df = pd.DataFrame({"x": WIDEN_X, "y": WIDEN_TOP, "y2": WIDEN_BOTTOM})
    return alt.Chart(df).mark_area(color="#6464ed", opacity=0.55).encode(y2="y2:Q", **enc)


def arrow_layer(enc):
    shaft = alt.Chart(pd.DataFrame([{"x": 37.4, "y": 7.03, "y2": 3.45}])).mark_rule(
        color="#0000ff", strokeWidth=2.5).encode(y2="y2:Q", **enc)
    head = alt.Chart(pd.DataFrame([{"x": 37.4, "y": 3.62}])).mark_point(
        shape="M -1 -1 L 0 1 L 1 -1", size=150, filled=False, stroke="#0000ff",
        strokeWidth=2.5, opacity=1).encode(**enc)
    return alt.layer(shaft, head)


big = dict(font=LAT, fontSize=28, color="black")
top_extra = [
    hwl_layer(0, 510, TOP_HWL),
    text_layer([{"x": 274, "y": 5.28, "t": "HWL T.P.+4.5m"}], **big),
    box_layer(236.6, 290.6, 11.56, 13.08),
    text_layer([{"x": 263.6, "y": 12.32, "t": "1.2k"}], font=LAT, fontSize=27, color="black"),
    ellipse_layer(99.2, -3.35, 56, 52, PURPLE),
    ellipse_layer(385.6, 1.13, 65, 40, "#ff0000"),
    text_layer([{"x": 4.9, "y": -2.64, "t": "侵食傾向"}, {"x": 4.9, "y": -4.14, "t": "河床低下"}],
               font=JP, fontSize=30, color=PURPLE),
    text_layer([{"x": 304, "y": -1.51, "t": "工事による"}, {"x": 304, "y": -2.98, "t": "河床低下"}],
               font=JP, fontSize=29, color="#ff0000", align="left"),
]

bot_extra = [
    widen_layer,
    hwl_layer(-20, 435, BOT_HWL),
    text_layer([{"x": 234.1, "y": 6.42, "t": "HWL T.P.+5.663m"}], **big),
    box_layer(220.3, 273.2, 13.96, 15.46),
    text_layer([{"x": 246.7, "y": 14.71, "t": "2.0k"}], font=LAT, fontSize=27, color="black"),
    text_layer([{"x": 54.5, "y": 9.83, "t": "低水路拡幅"}], font=JP, fontSize=31, color="#0000ff"),
    text_layer([{"x": 125.6, "y": 8.22, "t": "（H2～H10にかけて拡幅）"}], font=JP, fontSize=28, color="#0000ff"),
    arrow_layer,
    ellipse_layer(64.2, -1.56, 65, 33.3, PURPLE),
    text_layer([{"x": -29.3, "y": -2.8, "t": "侵食傾向"}], font=JP, fontSize=31, color=PURPLE),
    ellipse_layer(293.5, -0.35, 65.5, 44.7, "#ff0000"),
    text_layer([{"x": 385.4, "y": -0.31, "t": "土砂が堆積し右岸"},
                {"x": 385.4, "y": -1.31, "t": "流路へ通水しにくい"},
                {"x": 385.4, "y": -2.31, "t": "状況となっている"}],
               font=JP, fontSize=22, color="#ff0000", align="left"),
]

x_values = list(range(-100, 601, 100))
top_x_axis = alt.Axis(values=x_values, labels=False, ticks=True, tickSize=8, tickColor="black", tickWidth=1.5,
                      domainColor="black", domainWidth=2, grid=False, title=None)
bot_x_axis = alt.Axis(values=x_values, format="d", labelFont=LAT, labelFontSize=26, labelColor="black",
                      labelPadding=9, tickSize=8, tickColor="black", tickWidth=1.5, domainColor="black",
                      domainWidth=2, grid=False, title="(m)", titleFont=JP, titleFontSize=26,
                      titleFontWeight="normal", titleColor="black", titleX=920, titleY=17,
                      titleAlign="center", titleBaseline="top")

top = profile_panel(TOP_PROFILES, [-6, 14], 534, 507, 4, 10, 17, top_x_axis, top_extra)
bottom = profile_panel(BOT_PROFILES, [-4, 16], 533, 520, 4, 8.6, 2, bot_x_axis, bot_extra)

chart = alt.vconcat(top, bottom, spacing=11).resolve_scale(
    x="independent", y="independent", color="independent", strokeDash="independent",
    strokeWidth="independent",
).resolve_legend(color="independent", strokeDash="independent").properties(
    padding={"left": 12, "top": 12, "right": 0, "bottom": 0},
    background="white",
).configure_view(stroke="#404040", strokeWidth=1.5)

chart.save("out.html", embed_options={"renderer": "svg", "actions": False})
